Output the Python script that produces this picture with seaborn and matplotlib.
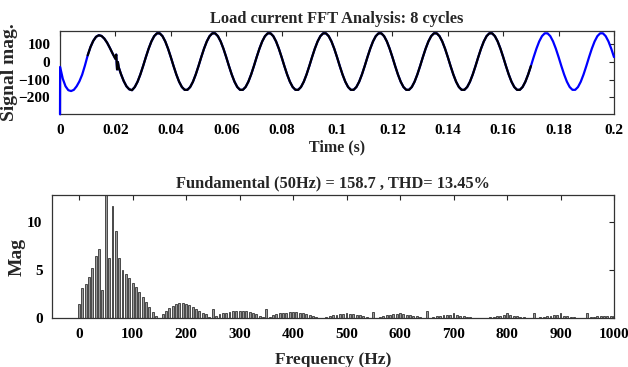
import numpy as np
import pandas as pd
import matplotlib
matplotlib.use("Agg")
import matplotlib.pyplot as plt
import seaborn as sns

# ---------------- data ----------------
# time-domain signal (ms, A): transient first cycle read point by point
t_transient_ms = [0, 0.05, 1, 2, 3, 4, 5, 6, 7, 8, 9, 10, 11, 12, 13, 14, 15, 16,
                  17, 18, 19, 20, 20.3, 20.6, 20.9, 21.2, 22, 23, 24, 25, 26]
v_transient = [-297, -28, -95, -138, -160, -165, -158, -138, -110, -72, -20, 38,
               85, 120, 143, 152, 148, 133, 110, 80, 48, 18, 42, -42, 0, -30,
               -68, -108, -138, -155, -160]
# steady part sampled every 1 ms from 27 ms to 200 ms
v_steady = [
    -142, -112, -71, -23, 28, 76, 117, 147, 163, 163, 147, 117, 76,
    28, -23, -71, -112, -142, -158, -158, -142, -112, -71, -23, 28, 76, 117, 147, 163, 163, 147, 117, 76,
    28, -23, -71, -112, -142, -158, -158, -142, -112, -71, -23, 28, 76, 117, 147, 163, 163, 147, 117, 76,
    28, -23, -71, -112, -142, -158, -158, -142, -112, -71, -23, 28, 76, 117, 147, 163, 163, 147, 117, 76,
    28, -23, -71, -112, -142, -158, -158, -142, -112, -71, -23, 28, 76, 117, 147, 163, 163, 147, 117, 76,
    28, -23, -71, -112, -142, -158, -158, -142, -112, -71, -23, 28, 76, 117, 147, 163, 163, 147, 117, 76,
    28, -23, -71, -112, -142, -158, -158, -142, -112, -71, -23, 28, 76, 117, 147, 163, 163, 147, 117, 76,
    28, -23, -71, -112, -142, -158, -158, -142, -112, -71, -23, 28, 76, 117, 147, 163, 163, 147, 117, 76,
    28, -23, -71, -112, -142, -158, -158, -142, -112, -71, -23, 28, 76, 117, 147, 163, 163, 147, 117, 76,
    28,
]
t_steady_start_ms = 27
window_ms = (10, 170)   # 8-cycle FFT window

# FFT spectrum, 6.25 Hz resolution (8 cycles of 50 Hz), 0..1000 Hz
freq_step = 6.25
mag = [
    1.45, 3.1, 3.55, 4.3, 5.2, 6.5, 7.2, 2.9, 158.7, 6.3, 11.7, 9.1, 6.3, 5.0, 4.6, 4.2,
    3.7, 3.2, 2.7, 2.2, 1.65, 1.15, 0.65, 0.25, 0.05, 0.45, 0.75, 1.05, 1.3, 1.45, 1.55, 1.55,
    1.5, 1.4, 1.2, 1.0, 0.8, 0.55, 0.4, 0.15, 1.0, 0.2, 0.4, 0.5, 0.6, 0.7, 0.75, 0.8,
    0.8, 0.8, 0.75, 0.65, 0.5, 0.4, 0.25, 0.1, 0.95, 0.1, 0.3, 0.4, 0.5, 0.55, 0.6, 0.65,
    0.7, 0.65, 0.6, 0.55, 0.45, 0.35, 0.25, 0.1, 0.02, 0.03, 0.1, 0.2, 0.3, 0.35, 0.4, 0.45,
    0.55, 0.45, 0.4, 0.35, 0.3, 0.2, 0.15, 0.05, 0.7, 0.05, 0.15, 0.25, 0.3, 0.35, 0.4, 0.4,
    0.5, 0.4, 0.35, 0.3, 0.25, 0.2, 0.1, 0.05, 0.75, 0.05, 0.15, 0.2, 0.25, 0.3, 0.3, 0.35,
    0.5, 0.3, 0.25, 0.2, 0.15, 0.1, 0.05, 0.02, 0.02, 0.03, 0.05, 0.1, 0.15, 0.2, 0.25, 0.3,
    0.5, 0.3, 0.25, 0.2, 0.15, 0.1, 0.05, 0.02, 0.5, 0.05, 0.1, 0.15, 0.2, 0.25, 0.3, 0.3,
    0.55, 0.25, 0.2, 0.15, 0.1, 0.05, 0.03, 0.02, 0.5, 0.1, 0.15, 0.2, 0.2, 0.25, 0.25, 0.25,
    0.25,
]

time_ticks = [0, 0.02, 0.04, 0.06, 0.08, 0.1, 0.12, 0.14, 0.16, 0.18, 0.2]
time_ticklabels = ["0", "0.02", "0.04", "0.06", "0.08", "0.1", "0.12", "0.14", "0.16", "0.18", "0.2"]
sig_yticks = [-200, -100, 0, 100]
freq_ticks = [0, 100, 200, 300, 400, 500, 600, 700, 800, 900, 1000]
mag_yticks = [0, 5, 10]

title_top = "Load current FFT Analysis: 8 cycles"
title_bottom = "Fundamental (50Hz) = 158.7 , THD= 13.45%"

# ---------------- build frames ----------------
t_ms = list(t_transient_ms) + list(np.arange(len(v_steady)) + t_steady_start_ms)
sig = pd.DataFrame({"t": np.array(t_ms, dtype=float) / 1000.0,
                    "v": list(v_transient) + list(v_steady)})
win = sig[(sig["t"] >= window_ms[0] / 1000) & (sig["t"] <= window_ms[1] / 1000)]

spec = pd.DataFrame({"f": np.arange(len(mag)) * freq_step, "m": mag})

# ---------------- style ----------------
sns.set_theme(style="white")
plt.rcParams["font.family"] = ["Liberation Serif", "DejaVu Serif"]
plt.rcParams["font.weight"] = "bold"
plt.rcParams["axes.labelweight"] = "bold"
plt.rcParams["axes.titleweight"] = "bold"

fig = plt.figure(figsize=(6.28, 3.67), dpi=100)
W, H = 628, 367
ax1 = fig.add_axes([60 / W, 1 - 114.3 / H, 554 / W, (114.3 - 30.5) / H])
ax2 = fig.add_axes([52.3 / W, 1 - 318.3 / H, (614 - 52.3) / W, (318.3 - 195) / H])

# ---------------- top: time signal ----------------
sns.lineplot(data=sig, x="t", y="v", ax=ax1, color="#0000ff", linewidth=1.6,
             estimator=None, sort=False, zorder=3, clip_on=False)
sns.lineplot(data=win, x="t", y="v", ax=ax1, color="black", linewidth=1.6,
             estimator=None, sort=False, zorder=3.1)
ax1.set_xlim(0, 0.2)
ax1.set_ylim(-297, 179)
ax1.set_xticks(time_ticks)
ax1.set_xticklabels(time_ticklabels)
ax1.set_yticks(sig_yticks)
ax1.set_title(title_top, fontsize=11.8, pad=5.5)
ax1.set_xlabel("Time (s)", fontsize=11.5)
ax1.set_ylabel("Signal mag.", fontsize=14)
ax1.xaxis.set_label_coords(0.5, -0.30)
ax1.yaxis.set_label_coords(-0.075, 0.5)

# ---------------- bottom: spectrum ----------------
sns.barplot(data=spec, x="f", y="m", ax=ax2, native_scale=True, orient="v",
            color="#9a9a9a", saturation=1, edgecolor="black", linewidth=0.45,
            width=0.58, errorbar=None)
ax2.set_xlim(-50, 1000)
ax2.set_ylim(0, 12.8)
ax2.set_xticks(freq_ticks)
ax2.set_xticklabels([str(v) for v in freq_ticks])
ax2.set_yticks(mag_yticks)
ax2.set_title(title_bottom, fontsize=11.8, pad=5.5)
ax2.set_xlabel("Frequency (Hz)", fontsize=12.5)
ax2.set_ylabel("Mag", fontsize=14)
ax2.xaxis.set_label_coords(0.5, -0.27)
ax2.yaxis.set_label_coords(-0.048, 0.5)

for ax in (ax1, ax2):
    ax.tick_params(direction="in", top=True, right=True, length=3.5, width=0.8,
                   labelsize=11, pad=7, colors="#262626")
    ax.tick_params(labelcolor="black")
    for s in ax.spines.values():
        s.set_linewidth(0.9)
        s.set_color("#333333")
        s.set_visible(True)

fig.savefig("out.png", dpi=100)
